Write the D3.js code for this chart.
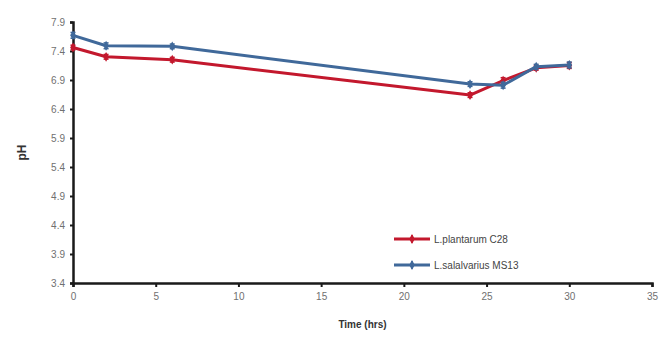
<!DOCTYPE html>
<html>
<head>
<meta charset="utf-8">
<script src="https://cdn.jsdelivr.net/npm/d3@7"></script>
<style>
  html, body { margin: 0; padding: 0; background: #fff; }
  svg { display: block; }
</style>
</head>
<body>
<script>
// Sampling times (hrs)
const times = [0, 2, 6, 24, 26, 28, 30];
// pH readings per strain
const plantarumPH = [7.46, 7.30, 7.25, 6.64, 6.89, 7.11, 7.15];
const salivariusPH = [7.67, 7.49, 7.48, 6.83, 6.81, 7.13, 7.16];
// Standard error for each reading
const plantarumErr = [0.04, 0.04, 0.04, 0.04, 0.05, 0.04, 0.05];
const salivariusErr = [0.05, 0.05, 0.04, 0.04, 0.05, 0.04, 0.05];
const seriesNames = ["L.plantarum C28", "L.salalvarius MS13"];
const yTicks = [3.4, 3.9, 4.4, 4.9, 5.4, 5.9, 6.4, 6.9, 7.4, 7.9];
const xTicks = [0, 5, 10, 15, 20, 25, 30, 35];

const W = 659, H = 338;
const svg = d3.select("body").append("svg").attr("width", W).attr("height", H);

const x = d3.scaleLinear().domain([0, 35]).range([73, 652]);
const y = d3.scaleLinear().domain([3.4, 7.9]).range([283, 22]);

const series = [
  { name: seriesNames[0], vals: plantarumPH, err: plantarumErr, color: "#c3182d" },
  { name: seriesNames[1], vals: salivariusPH, err: salivariusErr, color: "#40699a" }
];

// Axes
const yAxis = d3.axisLeft(y).tickValues(yTicks).tickSize(3).tickFormat(d3.format(".1f"));
const xAxis = d3.axisBottom(x).tickValues(xTicks).tickSize(4).tickFormat(d3.format("d"));

const gy = svg.append("g").attr("transform", `translate(${x(0)},0)`).call(yAxis);
const gx = svg.append("g").attr("transform", `translate(0,${y(3.4)})`).call(xAxis);

[gy, gx].forEach(g => {
  g.select(".domain").attr("stroke", "#1a1a1a").attr("stroke-width", 2.5);
  g.selectAll(".tick line").attr("stroke", "#1a1a1a").attr("stroke-width", 2);
  g.selectAll(".tick text")
    .attr("fill", "#707070")
    .style("font-family", "'Liberation Sans', Arial, sans-serif")
    .style("font-size", "10px");
});
gy.selectAll(".tick text").attr("x", -8);
gx.selectAll(".tick text").attr("y", 10);

// Axis titles
svg.append("text")
  .attr("transform", `translate(26,${y(5.65)}) rotate(-90)`)
  .attr("text-anchor", "middle")
  .style("font-family", "'Liberation Sans', Arial, sans-serif")
  .style("font-size", "12px").style("font-weight", "bold")
  .attr("fill", "#333")
  .text("pH");

svg.append("text")
  .attr("x", x(17.5)).attr("y", 328)
  .attr("text-anchor", "middle")
  .style("font-family", "'Liberation Sans', Arial, sans-serif")
  .style("font-size", "10px").style("font-weight", "bold")
  .attr("fill", "#333")
  .text("Time (hrs)");

// Lines, error bars and markers
const line = d3.line().x(d => x(d.t)).y(d => y(d.v));

series.forEach(s => {
  const pts = times.map((t, i) => ({ t, v: s.vals[i], e: s.err[i] }));
  const g = svg.append("g");
  g.append("path").datum(pts)
    .attr("d", line)
    .attr("fill", "none")
    .attr("stroke", s.color)
    .attr("stroke-width", 3)
    .attr("stroke-linejoin", "round");

  const eb = g.selectAll(".eb").data(pts).enter().append("g");
  eb.append("line")
    .attr("x1", d => x(d.t)).attr("x2", d => x(d.t))
    .attr("y1", d => y(d.v + d.e)).attr("y2", d => y(d.v - d.e))
    .attr("stroke", s.color).attr("stroke-width", 1.5);
  [1, -1].forEach(sign => {
    eb.append("line")
      .attr("x1", d => x(d.t) - 2.5).attr("x2", d => x(d.t) + 2.5)
      .attr("y1", d => y(d.v + sign * d.e)).attr("y2", d => y(d.v + sign * d.e))
      .attr("stroke", s.color).attr("stroke-width", 1.5);
  });
  g.selectAll(".mk").data(pts).enter().append("path")
    .attr("transform", d => `translate(${x(d.t)},${y(d.v)})`)
    .attr("d", d3.symbol(d3.symbolDiamond, 28)())
    .attr("fill", s.color);
});

// Legend
const legend = svg.append("g");
series.forEach((s, i) => {
  const ly = 239 + i * 26;
  legend.append("line")
    .attr("x1", 394).attr("x2", 430).attr("y1", ly).attr("y2", ly)
    .attr("stroke", s.color).attr("stroke-width", 3);
  legend.append("path")
    .attr("transform", `translate(412,${ly})`)
    .attr("d", d3.symbol(d3.symbolDiamond, 28)())
    .attr("fill", s.color);
  legend.append("line")
    .attr("x1", 412).attr("x2", 412).attr("y1", ly - 4).attr("y2", ly + 4)
    .attr("stroke", s.color).attr("stroke-width", 1.5);
  legend.append("text")
    .attr("x", 434).attr("y", ly + 3.5)
    .style("font-family", "'Liberation Sans', Arial, sans-serif")
    .style("font-size", "10px")
    .attr("fill", "#444")
    .text(s.name);
});
</script>
</body>
</html>
